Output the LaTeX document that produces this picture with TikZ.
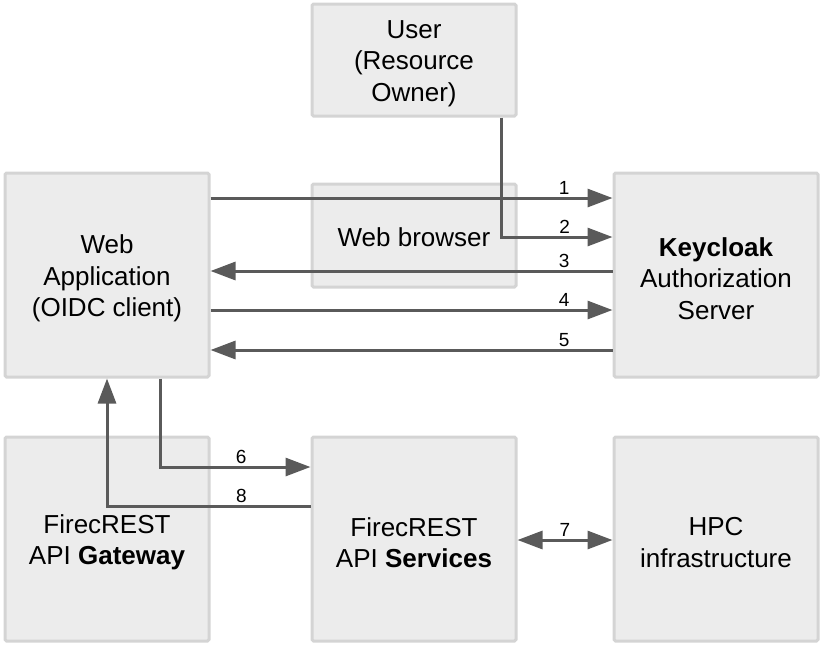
\documentclass[tikz,border=0pt]{standalone}
\usepackage{fontspec}
\setmainfont{Liberation Sans}
\usetikzlibrary{positioning, arrows.meta, calc}
\definecolor{boxfill}{HTML}{ECECEC}
\definecolor{boxline}{HTML}{D4D4D4}
\definecolor{flowcol}{HTML}{5A5A5A}

\begin{document}
\begin{tikzpicture}[
    x=1pt, y=-1pt,
    box/.style={draw=boxline, fill=boxfill, line width=3pt, rounded corners=1.5pt,
        minimum width=204pt, minimum height=204pt},
    boxtext/.style={align=center, font=\fontsize{26}{31.5}\selectfont, yshift=-3.5pt},
    flow/.style={draw=flowcol, line width=3pt,
        -{Triangle[length=25pt, width=18pt]}},
    both/.style={flow, {Triangle[length=25pt, width=18pt]}-{Triangle[length=25pt, width=18pt]}},
    num/.style={font=\fontsize{19}{22}\selectfont, anchor=south, inner sep=2pt},
]
\useasboundingbox (0,0) rectangle (824,649);

\node[box, minimum height=112pt, label={[boxtext]center:User\\(Resource\\Owner)}] (user) at (414,60) {};
\node[box, minimum height=103pt, label={[boxtext, yshift=1.5pt]center:Web browser}] (browser) at (414,235.5) {};
\node[box, label={[boxtext]center:Web\\Application\\(OIDC client)}] (webapp) at (107,275) {};
\node[box, label={[boxtext]center:\textbf{Keycloak}\\Authorization\\Server}] (keycloak) at (716,275) {};
\node[box, label={[boxtext]center:FirecREST\\API \textbf{Gateway}}] (gateway) at (107,539) {};
\node[box, label={[boxtext]center:FirecREST\\API \textbf{Services}}] (services) at (414,539) {};
\node[box, label={[boxtext]center:HPC\\infrastructure}] (hpc) at (716,539) {};

% authorization code flow
\draw[flow] ([yshift=77pt]webapp.east) -- ([yshift=77pt]keycloak.west)
    node[num, pos=0.88] {1};
\draw[flow] ([xshift=87pt]user.south) |- ([yshift=38pt]keycloak.west)
    node[num, pos=0.785] {2};
\draw[flow] ([yshift=4pt]keycloak.west) -- ([yshift=4pt]webapp.east)
    node[num, pos=0.12] {3};
\draw[flow] ([yshift=-35pt]webapp.east) -- ([yshift=-35pt]keycloak.west)
    node[num, pos=0.88] {4};
\draw[flow] ([yshift=-75pt]keycloak.west) -- ([yshift=-75pt]webapp.east)
    node[num, pos=0.12] {5};

% API calls
\draw[flow] ([xshift=53pt]webapp.south) |- ([yshift=72pt]services.west)
    node[num, pos=0.77] {6};
\draw[both] ([yshift=-1pt]services.east) -- ([yshift=-1pt]hpc.west)
    node[num, midway] {7};
\draw[flow] ([yshift=33pt]services.west) -| (webapp.south)
    node[num, pos=0.17] {8};
\end{tikzpicture}
\end{document}
